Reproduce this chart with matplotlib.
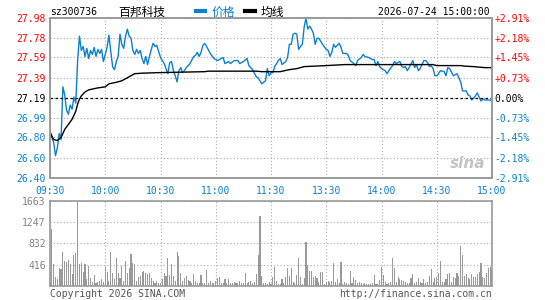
import matplotlib
matplotlib.use("Agg")
import matplotlib.pyplot as plt

plt.rcParams['font.family'] = ['DejaVu Sans Mono', 'Noto Sans CJK SC']

# ---- data ----
code = 'sz300736'
name = '百邦科技'
stamp = '2026-07-24 15:00:00'
prev_close = 27.19
price_levels = [26.40, 26.60, 26.80, 26.99, 27.19, 27.39, 27.59, 27.78, 27.98]
pct_labels = ['-2.91%', '-2.18%', '-1.45%', '-0.73%', '0.00%', '+0.73%', '+1.45%', '+2.18%', '+2.91%']
time_ticks = [0, 30, 60, 90, 120, 150, 180, 210, 240]
time_labels = ['09:30', '10:00', '10:30', '11:00', '11:30', '13:30', '14:00', '14:30', '15:00']
vol_levels = [416, 832, 1247, 1663]
vol_labels = ['416', '832', '1247', '1663']

price_min = [0, 1, 2, 3, 4, 5, 6, 7, 8, 9, 10, 11, 12, 13, 14, 15, 16, 17, 18, 19,
             20, 21, 22, 23, 24, 25, 26, 27, 28, 29, 30, 31, 32, 33, 34, 35, 36, 37, 38, 39,
             40, 41, 42, 43, 44, 45, 46, 47, 48, 49, 50, 51, 52, 53, 54, 55, 56, 57, 58, 60,
             62, 64, 65, 66, 67, 68, 69, 70, 71, 72, 73, 74, 76, 78, 79, 80, 81, 82, 83, 84,
             85, 87, 89, 91, 93, 94, 95, 97, 98, 100, 102, 103, 105, 107, 108, 110, 112, 113, 115, 117,
             118, 119, 120, 121, 122, 124, 125, 126, 128, 129, 130, 131, 132, 133, 134, 135, 136, 137, 138, 139,
             140, 141, 142, 143, 144, 145, 146, 147, 148, 150, 151, 152, 153, 154, 155, 157, 158, 159, 161, 162,
             163, 165, 166, 167, 169, 170, 171, 173, 175, 176, 177, 178, 179, 180, 182, 183, 184, 186, 187, 188,
             189, 190, 191, 192, 193, 194, 195, 197, 198, 199, 200, 201, 203, 204, 205, 206, 207, 208, 209, 210,
             211, 212, 214, 215, 216, 217, 219, 220, 221, 222, 223, 224, 226, 227, 228, 229, 231, 232, 233, 234,
             235, 236, 238, 240]
price_val = [26.87, 26.80, 26.75, 26.62, 26.70, 26.84, 26.78, 27.30, 27.22, 27.07, 27.03, 27.12, 27.08, 27.20, 27.14, 27.56, 27.80, 27.66, 27.70, 27.60,
             27.68, 27.58, 27.66, 27.62, 27.69, 27.60, 27.67, 27.63, 27.67, 27.55, 27.62, 27.69, 27.81, 27.65, 27.50, 27.47, 27.55, 27.60, 27.82, 27.72,
             27.68, 27.80, 27.87, 27.80, 27.78, 27.66, 27.62, 27.67, 27.63, 27.66, 27.58, 27.53, 27.60, 27.52, 27.60, 27.67, 27.73, 27.70, 27.71, 27.59,
             27.53, 27.43, 27.54, 27.55, 27.46, 27.41, 27.35, 27.46, 27.49, 27.44, 27.46, 27.49, 27.53, 27.60, 27.61, 27.64, 27.60, 27.64, 27.71, 27.73,
             27.70, 27.63, 27.58, 27.56, 27.58, 27.59, 27.53, 27.55, 27.53, 27.56, 27.56, 27.53, 27.55, 27.58, 27.51, 27.47, 27.40, 27.39, 27.33, 27.36,
             27.48, 27.41, 27.44, 27.44, 27.50, 27.56, 27.58, 27.52, 27.55, 27.59, 27.72, 27.72, 27.82, 27.83, 27.82, 27.67, 27.70, 27.72, 27.89, 27.98,
             27.87, 27.90, 27.87, 27.83, 27.72, 27.78, 27.78, 27.75, 27.72, 27.67, 27.66, 27.60, 27.64, 27.72, 27.69, 27.73, 27.69, 27.63, 27.63, 27.61,
             27.56, 27.53, 27.51, 27.56, 27.59, 27.62, 27.60, 27.59, 27.57, 27.57, 27.51, 27.55, 27.50, 27.48, 27.46, 27.43, 27.46, 27.51, 27.55, 27.53,
             27.54, 27.55, 27.50, 27.49, 27.50, 27.46, 27.49, 27.56, 27.49, 27.52, 27.46, 27.48, 27.56, 27.56, 27.54, 27.50, 27.51, 27.48, 27.41, 27.41,
             27.43, 27.46, 27.45, 27.41, 27.49, 27.48, 27.41, 27.42, 27.43, 27.39, 27.35, 27.26, 27.26, 27.22, 27.21, 27.17, 27.21, 27.24, 27.20, 27.16,
             27.18, 27.17, 27.17, 27.17]

avg_min = [0, 2, 4, 6, 8, 10, 12, 14, 15, 16, 17, 19, 21, 26, 30, 32, 36, 39, 43, 46,
           50, 58, 84, 86, 112, 115, 125, 130, 134, 138, 150, 160, 208, 210, 223, 225, 230, 236, 240]
avg_val = [26.85, 26.78, 26.77, 26.80, 26.88, 26.93, 26.98, 27.06, 27.13, 27.18, 27.21, 27.25, 27.27, 27.29, 27.30, 27.33, 27.345, 27.36, 27.40, 27.43,
           27.435, 27.44, 27.45, 27.455, 27.455, 27.45, 27.45, 27.47, 27.48, 27.50, 27.51, 27.52, 27.52, 27.51, 27.51, 27.505, 27.50, 27.49, 27.49]

vol_am = [52, 1108, 424, 176, 130, 358, 326, 665, 489, 476,
          502, 424, 228, 606, 652, 1663, 424, 443, 274, 424,
          130, 391, 163, 85, 215, 52, 78, 98, 130, 78,
          372, 274, 98, 665, 261, 143, 554, 248, 163, 391,
          98, 489, 261, 358, 619, 456, 424, 98, 183, 196,
          274, 293, 248, 228, 248, 163, 98, 52, 98,
          52, 52, 143, 261, 196, 554, 209, 424, 196,
          98, 665, 587, 248, 98, 163, 196, 117, 98, 65,
          228, 98, 65, 52, 209, 65, 52, 313, 52,
          98, 52, 65, 98, 163, 183, 65, 52, 130, 52,
          143, 52, 52, 78, 52, 65, 98, 52,
          52, 248, 52, 78, 98, 52, 78, 228, 600,
          1369, 196, 52, 52, 33, 78, 33]
vol_pm = [183, 378, 104, 39, 39, 130, 65, 183, 359, 202,
          359, 85, 52, 215, 554, 183, 39, 163, 867, 411,
          300, 300, 183, 196, 150, 85, 280, 280, 39,
          85, 104, 85, 104, 456, 85, 130, 65, 476,
          39, 85, 65, 39, 300, 65, 183, 117, 65,
          85, 65, 39, 65, 39, 39, 39, 65,
          215, 39, 39, 117, 365, 215, 85, 39, 65, 85,
          541, 345, 85, 183, 130, 117, 104, 85, 65,
          65, 150, 235, 65, 85, 150, 85, 65, 130,
          65, 85, 196, 326, 85, 150, 183, 248,
          495, 85, 85, 130, 235, 261, 85, 183, 150, 248,
          196, 782, 606, 196, 235, 150, 130, 235, 183, 183,
          235, 280, 456, 170, 150, 261, 345, 378, 330]

BLUE = '#0c7fcf'
RED = '#ff0000'
GRID = '#aaaaaa'
EDGE = '#999999'

fig = plt.figure(figsize=(5.45, 3.0), dpi=100)
ax = fig.add_axes([50 / 545, 122 / 300, 442 / 545, 160 / 300])
axv = fig.add_axes([50 / 545, 14 / 300, 442 / 545, 85 / 300])

# ---- price panel ----
ax.plot(price_min, price_val, color=BLUE, lw=1.0, label='价格')
ax.plot(avg_min, avg_val, color='black', lw=1.0, label='均线')
ax.axhline(prev_close, color='black', lw=0.9, ls=(0, (2, 2)))
ax.set_xlim(0, 240)
ax.set_ylim(price_levels[0], price_levels[-1])
ax.set_yticks(price_levels, [f'{v:.2f}' for v in price_levels])
ax.set_xticks(time_ticks, time_labels)
ax.grid(True, color=GRID, ls=(0, (1, 2)), lw=0.8)
ax.tick_params(length=0, labelsize=7, pad=3)
ax.tick_params(axis='x', pad=6)
for lbl, v in zip(ax.get_yticklabels(), price_levels):
    lbl.set_color(RED if v > prev_close else ('black' if v == prev_close else BLUE))
for lbl in ax.get_xticklabels():
    lbl.set_color(BLUE)

axr = ax.twinx()
axr.set_ylim(ax.get_ylim())
axr.set_yticks(price_levels, pct_labels)
axr.tick_params(length=0, labelsize=7, pad=2)
for lbl, v in zip(axr.get_yticklabels(), price_levels):
    lbl.set_color(RED if v > prev_close else ('black' if v == prev_close else BLUE))

for a in (ax, axr):
    for s in a.spines.values():
        s.set_color(EDGE)
        s.set_linewidth(1.2)

ax.text(0.945, 0.09, 'sina', transform=ax.transAxes, ha='center', va='center',
        fontsize=11, fontweight='bold', fontstyle='italic', color='#c4c4c4', family='DejaVu Sans')

# ---- volume panel ----
axv.bar(range(len(vol_am)), vol_am, width=0.6, color='#999999')
axv.bar(range(len(vol_am), len(vol_am) + len(vol_pm)), vol_pm, width=0.6, color='#999999')
axv.set_xlim(0, 240)
axv.set_ylim(0, vol_levels[-1])
axv.set_yticks(vol_levels, vol_labels)
axv.set_xticks(time_ticks, [])
axv.grid(True, color=GRID, ls=(0, (1, 2)), lw=0.8)
axv.set_axisbelow(True)
axv.tick_params(length=0, labelsize=7, pad=3, colors='#808080')
for s in axv.spines.values():
    s.set_color(EDGE)
    s.set_linewidth(1.2)

# ---- header / footer ----
ty = 1 - 12 / 300
fig.text(50 / 545, ty, code, fontsize=7, va='center')
fig.text(118 / 545, ty, name, fontsize=8.5, va='center', family=['Noto Sans CJK SC'])
leg = fig.legend(loc='center left', bbox_to_anchor=(196 / 545, ty), ncol=2, frameon=False,
                 handlelength=0.8, handletextpad=0.5, columnspacing=0.9, labelcolor='linecolor',
                 prop={'family': 'Noto Sans CJK SC', 'size': 8.5}, borderaxespad=0, borderpad=0)
for h in leg.get_lines():
    h.set_linewidth(3)
fig.text(490 / 545, ty, stamp, fontsize=7, va='center', ha='right')

fy = 1 - 294 / 300
fig.text(50 / 545, fy, 'Copyright 2026 SINA.COM', fontsize=7, va='center', color='#555555')
fig.text(492 / 545, fy, 'http://finance.sina.com.cn', fontsize=7, va='center', ha='right', color='#555555')

fig.savefig('out.png', dpi=100)
